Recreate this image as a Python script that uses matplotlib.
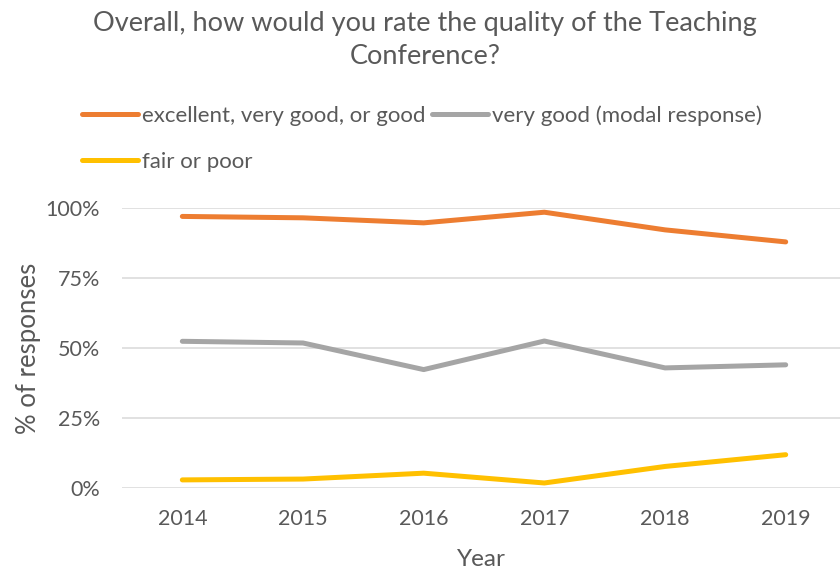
import matplotlib.pyplot as plt

# values
years = ['2014', '2015', '2016', '2017', '2018', '2019']
good_or_better = [0.971, 0.966, 0.948, 0.986, 0.923, 0.880]
very_good = [0.525, 0.519, 0.424, 0.526, 0.430, 0.441]
fair_or_poor = [0.030, 0.033, 0.054, 0.019, 0.078, 0.120]

plt.rcParams['font.family'] = ['Lato', 'DejaVu Sans']
text_color = '#595959'

fig = plt.figure(figsize=(8.4, 5.72), dpi=100)
ax = fig.add_axes([122 / 840, 1 - 488.3 / 572, 718 / 840, 280 / 572])

x = range(len(years))
l1, = ax.plot(x, good_or_better, color='#ED7D31', lw=3.6, solid_capstyle='round',
              label='excellent, very good, or good', clip_on=False)
l2, = ax.plot(x, very_good, color='#A5A5A5', lw=3.6, solid_capstyle='round',
              label='very good (modal response)', clip_on=False)
l3, = ax.plot(x, fair_or_poor, color='#FFC000', lw=3.6, solid_capstyle='round',
              label='fair or poor', clip_on=False)

ax.set_xlim(-0.5, 5.45)
ax.set_ylim(0, 1.0)
ax.set_xticks(list(x))
ax.set_xticklabels(years)
ax.set_yticks([0, 0.25, 0.5, 0.75, 1.0])
ax.set_yticklabels(['0%', '25%', '50%', '75%', '100%'])
ax.tick_params(length=0, labelsize=15.5, colors=text_color)
ax.tick_params(axis='x', pad=15)
ax.tick_params(axis='y', pad=16)
ax.grid(axis='y', color='#D9D9D9', lw=1.1)
ax.set_axisbelow(True)
for s in ax.spines.values():
    s.set_visible(False)

ax.set_xlabel('Year', fontsize=17.5, color=text_color, labelpad=14)
ax.set_ylabel('% of responses', fontsize=18.5, color=text_color, labelpad=3)

fig.text(0.506, 1 - 40 / 572,
         'Overall, how would you rate the quality of the Teaching\nConference?',
         ha='center', va='center', fontsize=19.5, color=text_color, linespacing=1.45)

leg = fig.legend([l1, l3, l2], [l1.get_label(), l3.get_label(), l2.get_label()],
                 ncol=2, loc='upper left', bbox_to_anchor=(82 / 840, 1 - 105 / 572),
                 frameon=False, fontsize=16, handlelength=2.5, handletextpad=0.2,
                 columnspacing=0.3, labelspacing=1.2, borderpad=0, borderaxespad=0,
                 labelcolor=text_color)

fig.savefig('out.png', dpi=100)
